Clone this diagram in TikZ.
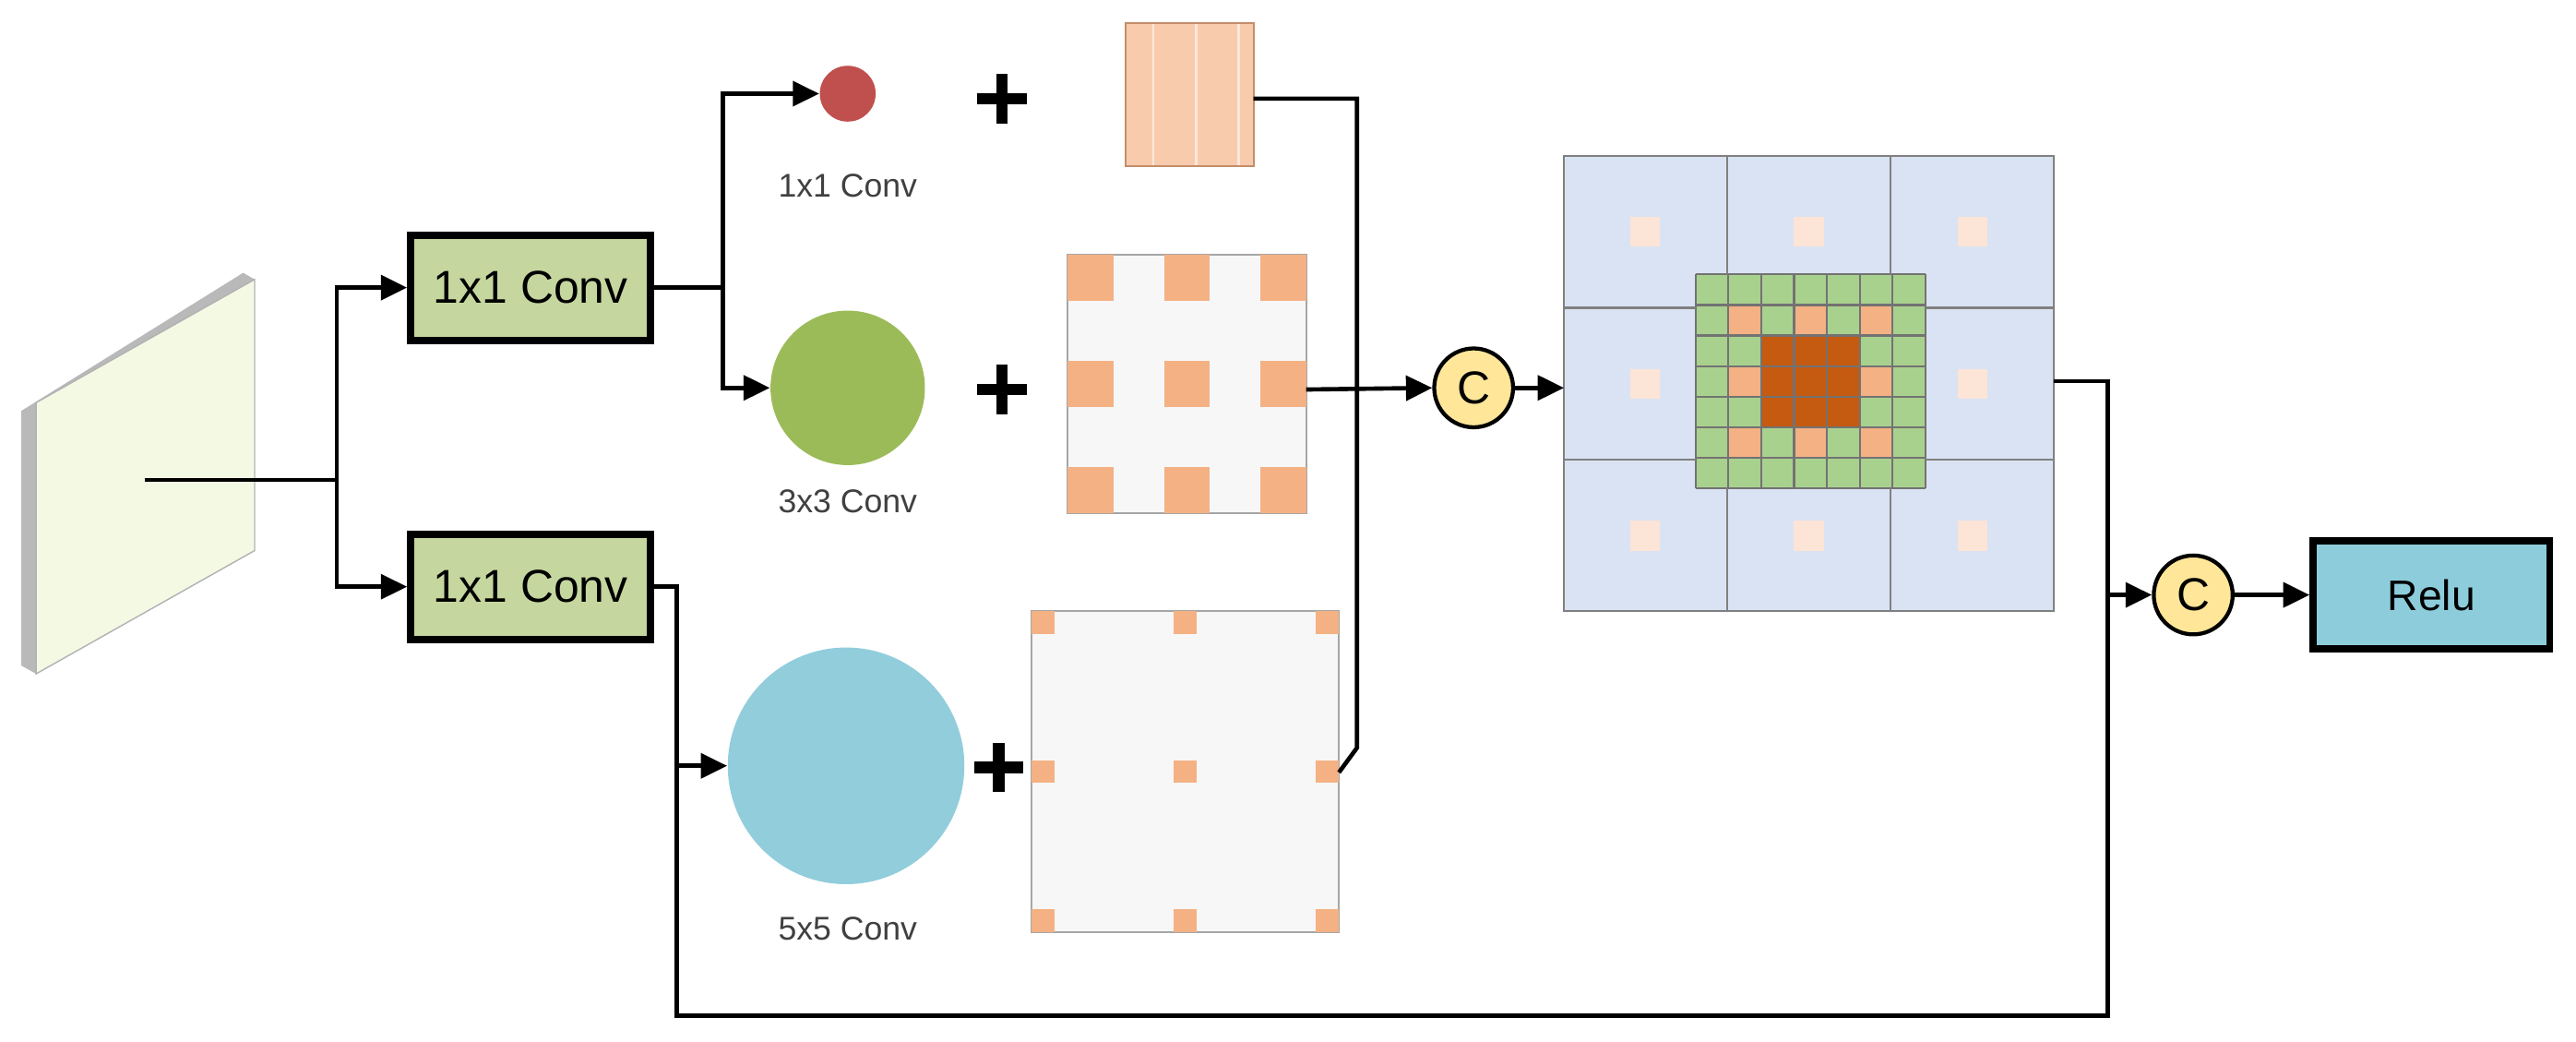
\documentclass[tikz,border=0pt]{standalone}
\usepackage{fontspec}
\setmainfont{Liberation Sans}
\usetikzlibrary{arrows.meta}
\definecolor{boxg}{HTML}{C5D69E}
\definecolor{redc}{HTML}{C0504D}
\definecolor{greenc}{HTML}{9BBB59}
\definecolor{bluec}{HTML}{92CDDC}
\definecolor{peach}{HTML}{F8CBAD}
\definecolor{orsq}{HTML}{F4B183}
\definecolor{dkor}{HTML}{C55A11}
\definecolor{lblue}{HTML}{DAE3F3}
\definecolor{lpeach}{HTML}{FCE4D6}
\definecolor{ingreen}{HTML}{A9D18E}
\definecolor{cyel}{HTML}{FFE699}
\definecolor{relu}{HTML}{8DCDDB}
\definecolor{plane}{HTML}{F4F9E4}
\begin{document}
\begin{tikzpicture}[x=0.5pt,y=-0.5pt,
  ln/.style={line width=1.3pt},
  ar/.style={ln,-{Triangle[length=8pt,width=7.5pt]}},
  conv/.style={draw,line width=2.2pt,fill=boxg,minimum width=73pt,minimum height=32pt,inner sep=0pt,font=\fontsize{14}{16}\selectfont},
  cc/.style={circle,draw,line width=1.2pt,fill=cyel,minimum size=24pt,inner sep=0pt,font=\fontsize{14}{16}\selectfont},
  lab/.style={font=\fontsize{10}{12}\selectfont,text=black!75}]
\useasboundingbox (0,0) rectangle (1568,634);
% input plane
\fill[gray!55] (13,250) -- (148,166) -- (155,170) -- (22,245) -- (22,410) -- (13,405) -- cycle;
\filldraw[fill=plane,draw=gray!60,line width=0.4pt] (22,245) -- (155,170) -- (155,335) -- (22,410) -- cycle;
\coordinate (in) at (88,292);
\coordinate (sp) at (205,292);
% conv boxes
\node[conv] (b1) at (323,175) {1x1 Conv};
\node[conv] (b2) at (323,357) {1x1 Conv};
\draw[ln] (in) -- (sp);
\draw[ar] (sp) |- (b1.west);
\draw[ar] (sp) |- (b2.west);
% circles
\node[circle,fill=redc,minimum size=17pt,inner sep=0pt] (c1) at (516,57) {};
\node[circle,fill=greenc,minimum size=47pt,inner sep=0pt] (c3) at (516,236) {};
\node[circle,fill=bluec,minimum size=72pt,inner sep=0pt] (c5) at (515,466) {};
\node[lab] (l1) at (516,113) {1x1 Conv};
\node[lab] (l3) at (516,305) {3x3 Conv};
\node[lab] (l5) at (516,565) {5x5 Conv};
\coordinate (s1) at (440,175);
\draw[ln] (b1.east) -- (s1);
\draw[ar] (s1) |- (c1.west);
\draw[ar] (s1) |- (c3.west);
\coordinate (s2) at (412,466);
\draw[ln] (b2.east) -| (s2);
\draw[ar] (s2) -- (c5.west);
% plus signs
\foreach \p/\q in {610/60,610/237,608/467}{
  \fill (\p-15,\q-3.5) rectangle (\p+15,\q+3.5);
  \fill (\p-3.5,\q-15) rectangle (\p+3.5,\q+15);}
% 3x3 kernel
\fill[peach] (685,14) rectangle (763,101);
\draw[white!70!orsq,line width=0.8pt] (685,14) grid[xstep=26,ystep=29] (763,101);
\draw[orsq!80!black,line width=0.6pt] (685,14) rectangle (763,101);
\coordinate (k1) at (763,60);
% dilated 3x3
\filldraw[fill=gray!6,draw=gray!70,line width=0.6pt] (650,155) rectangle (795,312);
\foreach \x in {650,708.5,767}\foreach \y in {155,219.5,284}
  \fill[orsq] (\x,\y) rectangle ++(28,28);
\coordinate (k3) at (795,237);
% dilated 5x5
\filldraw[fill=gray!6,draw=gray!70,line width=0.6pt] (628,372) rectangle (815,567);
\foreach \x in {628,714.5,801}\foreach \y in {372,462.5,553}
  \fill[orsq] (\x,\y) rectangle ++(14,14);
\coordinate (k5) at (815,470);
% C1
\node[cc] (C1) at (897,236) {C};
\coordinate (j) at (826,237);
\draw[ln] (k1) -| (826,455) -- (k5);
\draw[ar] (k3) -- (C1.west);
% big grid
\fill[lblue] (952,95) rectangle (1250,372);
\foreach \x in {1001.5,1101,1200.5}\foreach \y in {141,233.5,326}
  \fill[lpeach] (\x-9,\y-9) rectangle (\x+9,\y+9);
\fill[ingreen] (1032,167) rectangle (1172,297);
\foreach \i/\k in {1/1,1/3,1/5,3/1,3/5,5/1,5/3,5/5}
  \fill[orsq] (1032+20*\i,167+18.571*\k) rectangle ++(20,18.571);
\fill[dkor] (1072,204.14) rectangle (1132,259.86);
\foreach \i in {0,...,7}{
  \draw[black!55,line width=0.6pt] (1032+20*\i,167) -- (1032+20*\i,297);
  \draw[black!55,line width=0.6pt] (1032,167+18.571*\i) -- (1172,167+18.571*\i);}
\draw[black!50,line width=0.6pt] (952,95) rectangle (1250,372);
\foreach \x in {1051.3,1150.7}{
  \draw[black!50,line width=0.6pt] (\x,95) -- (\x,167);
  \draw[black!50,line width=0.6pt] (\x,297) -- (\x,372);}
\foreach \y in {187.3,279.7}{
  \draw[black!50,line width=0.6pt] (952,\y) -- (1032,\y);
  \draw[black!50,line width=0.6pt] (1172,\y) -- (1250,\y);}
\coordinate (gin) at (952,236);
\coordinate (gout) at (1250,232);
\draw[ar] (C1.east) -- (gin);
% C2 and Relu
\node[cc] (C2) at (1335,362) {C};
\node[draw,line width=2.2pt,fill=relu,minimum width=72pt,minimum height=33pt,inner sep=0pt,font=\fontsize{13}{15}\selectfont] (R) at (1480,362) {Relu};
\coordinate (m) at (1283,362);
\draw[ln] (gout) -| (m);
\draw[ln] (s2) |- (1283,618) -- (m);
\draw[ar] (m) -- (C2.west);
\draw[ar] (C2.east) -- (R.west);
\end{tikzpicture}
\end{document}
